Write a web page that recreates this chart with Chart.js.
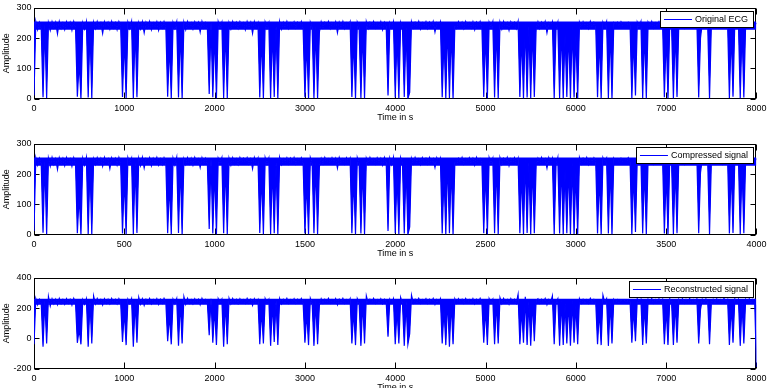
<!DOCTYPE html>
<html>
<head>
<meta charset="utf-8">
<script src="https://cdn.jsdelivr.net/npm/chart.js@4.4.0/dist/chart.umd.min.js"></script>
<style>
  html, body { margin: 0; padding: 0; background: #fff; overflow: hidden; }
  body { width: 771px; height: 388px; position: relative; }
  .panel { position: absolute; left: 0; width: 771px; height: 123px; }
</style>
</head>
<body>
<div class="panel" style="top:0px"><canvas id="c1"></canvas></div>
<div class="panel" style="top:136px"><canvas id="c2"></canvas></div>
<div class="panel" style="top:270px"><canvas id="c3"></canvas></div>
<script>
// sample spacing of each trace (time units per sample)
const origStep = 20;
const compStep = 10;
const reconStep = 20;

const originalEcg = [
  10,255,228,252,232,4,245,2,250,226,254,234,252,214,255,232,250,228,254,236,252,226,255,234,6,
  120,0,250,230,254,3,230,0,252,232,255,234,250,216,254,236,252,230,255,234,251,228,254,236,5,
  200,2,252,232,255,0,240,4,250,230,254,218,252,234,255,228,250,236,254,226,252,234,255,236,6,
  180,0,251,232,254,3,230,0,252,228,255,236,250,230,254,238,252,220,255,234,250,230,15,252,4,
  220,0,254,234,252,2,235,0,250,230,255,236,252,232,254,238,250,228,255,236,252,216,254,234,250,
  3,210,0,252,232,250,0,230,5,240,0,254,230,252,236,255,232,250,238,254,234,252,238,255,232,
  4,190,0,252,234,2,240,0,220,254,234,252,238,255,232,250,238,254,218,252,236,255,232,250,238,
  254,5,200,0,252,234,2,230,0,254,232,252,238,255,234,250,236,254,228,252,238,10,250,234,254,
  3,210,0,252,234,5,235,0,20,254,234,252,238,255,230,250,238,254,232,252,236,255,220,250,238,
  254,4,200,0,250,2,230,0,240,232,254,236,252,232,255,238,250,234,254,228,252,238,255,232,5,
  220,0,252,234,254,3,240,0,252,230,255,236,250,226,254,238,252,232,255,5,210,0,250,3,240,
  0,235,5,230,254,232,252,236,255,218,250,238,254,0,230,252,2,240,0,220,5,230,0,240,3,
  215,0,252,234,254,238,250,232,255,236,252,240,4,200,0,252,236,254,2,230,0,250,240,252,238,
  254,242,250,240,252,244,0,200,10,252,236,254,2,225,0,252,238,255,234,250,240,254,236,252,4,
  210,0,252,238,0,230,5,250,238,254,234,252,240,255,236,250,240,254,3,200,252,236,254,240,0,
  240,252,236,254,240,250,238,255,242,252,2,220,6,254,238,252,0,230,3,250,240,254,236,252,242,
  250
];

const compressedSignal = [
  12,254,230,252,234,6,242,0,252,226,255,232,250,216,254,234,252,228,255,236,250,226,254,232,4,
  130,0,252,230,255,2,226,0,250,232,254,234,252,226,255,236,250,218,254,238,252,230,255,232,3,
  190,0,254,234,252,2,238,5,252,228,255,220,250,236,254,228,252,238,255,230,250,232,254,236,4,
  170,0,252,230,255,5,232,0,250,232,254,234,252,230,255,238,250,222,254,234,252,232,18,250,3,
  215,0,252,236,254,4,238,0,252,230,254,234,250,232,255,238,252,236,254,234,250,218,255,236,252,
  5,200,0,254,232,252,2,226,4,238,0,255,232,250,238,254,234,252,236,255,234,250,238,254,236,
  3,180,0,254,234,4,238,0,225,252,234,255,238,250,236,254,238,252,220,255,236,250,234,254,238,
  252,4,190,0,254,234,3,228,0,252,234,255,238,250,234,254,238,252,230,255,238,12,252,232,255,
  4,200,0,254,234,3,232,0,25,252,234,255,238,250,232,254,238,252,234,255,236,250,222,254,236,
  252,3,195,0,252,4,228,0,238,232,252,238,255,234,250,238,254,236,252,230,255,238,250,234,4,
  215,0,254,234,252,4,238,0,254,232,252,238,255,228,250,236,254,234,252,4,205,0,252,5,238,
  0,232,4,228,252,234,255,238,250,220,254,236,252,0,228,254,3,238,0,222,4,232,0,238,2,
  210,0,254,234,252,238,255,232,250,238,254,240,3,195,0,254,238,252,3,228,0,252,240,250,238,
  252,242,250,240,254,242,0,205,8,254,236,252,3,222,0,254,238,252,234,255,240,252,236,254,3,
  205,0,254,236,2,228,4,252,238,255,234,250,240,254,236,252,240,255,4,205,250,238,252,240,2,
  238,254,236,252,240,255,234,250,240,254,3,225,5,252,238,254,2,228,4,252,238,255,236,250,240,
  252
];

const reconstructedSignal = [
  -40,262,222,258,232,-55,250,-35,275,214,262,228,258,222,264,230,256,226,262,232,258,220,264,234,-30,
  60,-40,255,226,262,-55,240,-35,280,228,264,232,256,220,262,232,258,228,264,236,258,228,262,232,-25,
  180,-45,258,230,262,-55,245,-30,270,226,262,218,258,232,264,228,256,234,262,224,258,232,264,236,-20,
  150,-40,258,228,262,-50,240,-35,275,226,264,232,256,228,262,236,258,222,264,234,256,230,20,262,-30,
  200,-45,262,232,258,-55,240,-40,265,228,264,234,258,230,262,236,256,232,264,234,258,218,262,234,256,
  -40,190,-35,262,230,256,-50,235,-25,245,-45,262,228,258,236,264,232,256,236,262,232,258,238,264,234,
  -30,170,-45,265,232,-50,245,-40,220,262,232,258,236,264,234,256,238,262,222,258,236,264,232,256,236,
  262,-35,185,-45,262,234,-50,240,-35,280,232,258,236,264,232,256,236,262,230,258,238,10,258,234,262,
  -40,195,-35,270,232,-50,240,-40,30,285,234,258,236,264,232,256,238,262,232,258,236,264,224,256,236,
  262,-35,190,-45,258,-55,235,-40,260,232,262,236,258,232,264,238,256,234,262,228,258,236,264,232,-30,
  200,-45,262,234,258,-40,245,-35,268,230,264,236,256,226,262,236,258,232,290,-40,190,-30,275,-45,240,
  -50,240,-20,250,262,232,258,236,264,222,256,236,280,-40,235,262,-50,245,-45,230,-35,240,-50,245,-30,
  220,-40,262,232,258,236,256,232,264,236,258,240,-40,180,-45,285,236,262,-50,235,-35,258,240,256,236,
  250,242,248,240,252,244,-30,195,-20,262,236,258,-45,215,-35,258,238,264,234,256,240,262,236,258,-40,
  200,-45,262,236,-45,235,-30,258,238,262,234,258,240,264,236,256,242,262,-35,190,258,236,262,240,-40,
  235,258,236,262,240,256,238,264,242,258,-45,215,-30,262,238,258,-50,230,-35,258,240,262,236,258,242,
  -190
];

const xTicksWide = 1000;
const xTicksNarrow = 500;

const FONT = '"Liberation Sans", Arial, Helvetica, sans-serif';
Chart.defaults.font.family = FONT;
Chart.defaults.font.size = 9;
Chart.defaults.color = '#000';

// MATLAB-style box with inward ticks, drawn under the trace
const axesBox = {
  id: 'axesBox',
  beforeDatasetsDraw(chart) {
    const { ctx, chartArea: a, scales: { x, y } } = chart;
    const L = Math.round(a.left) + 0.5, R = Math.round(a.right) - 0.5;
    const T = Math.round(a.top) + 0.5, B = Math.round(a.bottom) - 0.5;
    ctx.save();
    ctx.strokeStyle = '#000';
    ctx.lineWidth = 1;
    ctx.beginPath();
    x.ticks.forEach(t => {
      const px = Math.round(x.getPixelForValue(t.value)) + 0.5;
      ctx.moveTo(px, T); ctx.lineTo(px, T + 6);
      ctx.moveTo(px, B); ctx.lineTo(px, B - 6);
    });
    y.ticks.forEach(t => {
      const py = Math.round(y.getPixelForValue(t.value)) + 0.5;
      ctx.moveTo(L, py); ctx.lineTo(L + 5, py);
      ctx.moveTo(R, py); ctx.lineTo(R - 5, py);
    });
    ctx.stroke();
    ctx.strokeRect(L, T, R - L, B - T);
    ctx.restore();
  }
};

// legend box in the upper right corner of the axes
const cornerLegend = {
  id: 'cornerLegend',
  afterDatasetsDraw(chart) {
    const { ctx, chartArea: a } = chart;
    const ds = chart.data.datasets[0];
    ctx.save();
    ctx.font = '9px ' + FONT;
    const tw = ctx.measureText(ds.label).width;
    const right = Math.round(a.right) - 3;
    const top = Math.round(a.top) + 3;
    const h = 16;
    const textX = right - 5 - tw;
    const lineEnd = textX - 3;
    const lineStart = lineEnd - 28;
    const left = Math.round(lineStart - 4);
    ctx.fillStyle = '#fff';
    ctx.fillRect(left, top, right - left, h);
    ctx.strokeStyle = '#000';
    ctx.lineWidth = 1;
    ctx.strokeRect(left + 0.5, top + 0.5, right - left, h);
    ctx.strokeStyle = ds.borderColor;
    ctx.beginPath();
    ctx.moveTo(lineStart, top + h / 2 + 0.5);
    ctx.lineTo(lineEnd, top + h / 2 + 0.5);
    ctx.stroke();
    ctx.fillStyle = '#000';
    ctx.textBaseline = 'middle';
    ctx.textAlign = 'left';
    ctx.fillText(ds.label, textX, top + h / 2 + 1);
    ctx.restore();
  }
};

// the trace oscillates faster than a pixel, so the band it sweeps between
// bandLo and bandHi is shaded from both sides of the sampled line
function makePanel(id, label, values, step, xMax, xStep, yMin, yMax, yStep, bandLo, bandHi) {
  const pts = values.map((v, i) => ({ x: i * step, y: v }));
  return new Chart(document.getElementById(id), {
    type: 'line',
    data: {
      datasets: [{
        label: label,
        data: pts,
        borderColor: '#0000ff',
        backgroundColor: '#0000ff',
        borderWidth: 1.2,
        pointRadius: 0,
        tension: 0,
        fill: { value: bandHi }
      }, {
        label: label + ' (band)',
        data: pts,
        borderColor: '#0000ff',
        backgroundColor: '#0000ff',
        borderWidth: 0,
        pointRadius: 0,
        tension: 0,
        fill: { value: bandLo }
      }]
    },
    options: {
      responsive: true,
      maintainAspectRatio: false,
      animation: false,
      events: [],
      layout: { padding: { top: 3.5, right: 13, left: 0, bottom: 0 } },
      plugins: { legend: { display: false }, tooltip: { enabled: false } },
      scales: {
        x: {
          type: 'linear',
          min: 0, max: xMax,
          grid: { display: false, drawTicks: false },
          border: { display: false },
          ticks: {
            stepSize: xStep, autoSkip: false, maxRotation: 0, padding: 4.5,
            callback: v => String(v)
          },
          title: { display: true, text: 'Time in s', padding: { top: 0, bottom: 0 } },
          afterFit: s => { s.height = 24.5; }
        },
        y: {
          min: yMin, max: yMax,
          grid: { display: false, drawTicks: false },
          border: { display: false },
          ticks: { stepSize: yStep, padding: 2.5, callback: v => String(v) },
          title: { display: true, text: 'Amplitude', padding: { top: 1.5, bottom: 0 } },
          afterFit: s => { s.width = 34; }
        }
      }
    },
    plugins: [axesBox, cornerLegend]
  });
}

makePanel('c1', 'Original ECG', originalEcg, origStep, 8000, xTicksWide, 0, 300, 100, 228, 255);
makePanel('c2', 'Compressed signal', compressedSignal, compStep, 4000, xTicksNarrow, 0, 300, 100, 228, 255);
makePanel('c3', 'Reconstructed signal', reconstructedSignal, reconStep, 8000, xTicksWide, -200, 400, 200, 222, 262);
</script>
</body>
</html>
